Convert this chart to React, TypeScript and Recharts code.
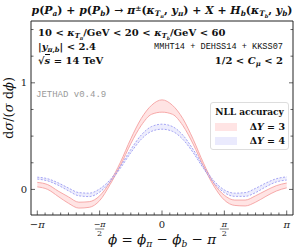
import React from 'react';
import { ComposedChart, Area, Line, XAxis, YAxis, ReferenceLine } from 'recharts';

// phi grid: k * pi/12, k = -12..12
const phi = [
  -3.1416, -2.8798, -2.618, -2.3562, -2.0944, -1.8326, -1.5708, -1.309, -1.0472, -0.7854, -0.5236, -0.2618,
  0,
  0.2618, 0.5236, 0.7854, 1.0472, 1.309, 1.5708, 1.8326, 2.0944, 2.3562, 2.618, 2.8798, 3.1416,
];

// Delta Y = 3 band
const redHi = [
  0.066, 0.045, -0.015, -0.07, -0.12, -0.115, -0.06, 0.07, 0.255, 0.475, 0.665, 0.79,
  0.84,
  0.79, 0.665, 0.47, 0.245, 0.055, -0.055, -0.1, -0.1, -0.06, -0.01, 0.035, 0.06,
];
const redLo = [
  0.024, 0.0, -0.065, -0.13, -0.175, -0.168, -0.105, 0.045, 0.225, 0.43, 0.6, 0.705,
  0.725,
  0.705, 0.6, 0.425, 0.215, 0.03, -0.1, -0.15, -0.155, -0.12, -0.065, -0.015, 0.015,
];

// Delta Y = 4 band
const blueHi = [
  0.115, 0.1, 0.062, 0.013, -0.03, -0.035, 0.005, 0.09, 0.22, 0.375, 0.51, 0.59,
  0.612,
  0.59, 0.51, 0.375, 0.215, 0.08, -0.005, -0.035, -0.03, 0.01, 0.06, 0.1, 0.118,
];
const blueLo = [
  0.097, 0.08, 0.04, -0.013, -0.06, -0.067, -0.025, 0.07, 0.2, 0.345, 0.47, 0.545,
  0.565,
  0.545, 0.47, 0.345, 0.195, 0.06, -0.03, -0.065, -0.065, -0.03, 0.025, 0.07, 0.088,
];

const xTicks = Array.from({ length: 33 }, (_, i) => ((i - 16) * Math.PI) / 16);
const yTicks = [0, 0.25, 0.5, 0.75, 1, 1.25, 1.5];

const data = phi.map((p, i) => ({
  phi: p,
  red: [redLo[i], redHi[i]],
  blue: [blueLo[i], blueHi[i]],
  redHi: redHi[i],
  redLo: redLo[i],
  blueHi: blueHi[i],
  blueLo: blueLo[i],
}));

// plot box in page pixels
const PL = 31;
const PR = 293;
const PT = 21;
const PB = 215;

const SERIF = '"DejaVu Serif", "Liberation Serif", serif';
const MONO = '"Liberation Mono", "DejaVu Sans Mono", monospace';
const AX = '#222';

const RED = '#f5a0a0';
const RED_FILL = '#ffe4e4';
const BLUE = '#9a9af2';
const BLUE_FILL = '#eaeafd';

const Sub = ({ children }: { children: React.ReactNode }) => (
  <span style={{ fontSize: '0.68em', position: 'relative', top: '0.32em', lineHeight: 0 }}>{children}</span>
);
const Sup = ({ children }: { children: React.ReactNode }) => (
  <span style={{ fontSize: '0.68em', position: 'relative', top: '-0.45em', lineHeight: 0 }}>{children}</span>
);

const Frac = ({ x, num }: { x: number; num: string }) => (
  <g>
    <text x={x} y={PB + 12} textAnchor="middle" fontSize={8} fontFamily={SERIF} fontStyle="italic" fill={AX}>{num}</text>
    <line x1={x - 4.5} x2={x + 4.5} y1={PB + 14} y2={PB + 14} stroke={AX} strokeWidth={0.6} />
    <text x={x} y={PB + 21} textAnchor="middle" fontSize={8} fontFamily={SERIF} fill={AX}>2</text>
  </g>
);

const renderXTick = (props: any) => {
  const { x, index } = props;
  const k = index - 16;
  const major = k % 8 === 0;
  let label: React.ReactNode = null;
  if (k === -16) label = <text x={x} y={PB + 13} textAnchor="middle" fontSize={10} fontFamily={SERIF} fill={AX}>−<tspan fontStyle="italic">π</tspan></text>;
  if (k === 16) label = <text x={x} y={PB + 13} textAnchor="middle" fontSize={10} fontFamily={SERIF} fontStyle="italic" fill={AX}>π</text>;
  if (k === 0) label = <text x={x} y={PB + 13} textAnchor="middle" fontSize={10} fontFamily={SERIF} fill={AX}>0</text>;
  if (k === -8) label = <Frac x={x} num="−π" />;
  if (k === 8) label = <Frac x={x} num="π" />;
  return (
    <g>
      <line x1={x} x2={x} y1={PB} y2={PB - (major ? 4.5 : 2.5)} stroke={AX} strokeWidth={0.7} />
      {label}
    </g>
  );
};

const renderLeftTick = (props: any) => {
  const { y, payload } = props;
  const v = Number(payload.value);
  const major = Math.abs(v) < 1e-6 || Math.abs(v - 1) < 1e-6;
  return (
    <g>
      <line x1={PL} x2={PL + (major ? 4 : 2.5)} y1={y} y2={y} stroke={AX} strokeWidth={0.7} />
      {Math.abs(v) < 1e-6 ? (
        <text x={PL - 4} y={y + 3.5} textAnchor="end" fontSize={10} fontFamily={SERIF} fill={AX}>0</text>
      ) : null}
    </g>
  );
};

const renderRightTick = (props: any) => {
  const { y, payload } = props;
  const v = Number(payload.value);
  const major = Math.abs(v) < 1e-6 || Math.abs(v - 1) < 1e-6;
  return <line x1={PR} x2={PR - (major ? 4 : 2.5)} y1={y} y2={y} stroke={AX} strokeWidth={0.7} />;
};

const renderOneLabel = (props: any) => {
  const vb = props.viewBox || {};
  const y = vb.y ?? 0;
  return (
    <text x={PL - 4} y={y + 3.5} textAnchor="end" fontSize={10} fontFamily={SERIF} fill={AX}>1</text>
  );
};

const abs = (left: number, top: number, extra: React.CSSProperties = {}): React.CSSProperties => ({
  position: 'absolute',
  left,
  top,
  whiteSpace: 'nowrap',
  lineHeight: 1,
  ...extra,
});

export default function App() {
  return (
    <div style={{ position: 'absolute', left: 0, top: 0, width: 304, height: 251, background: '#fff', fontFamily: SERIF, color: '#111' }}>
      <ComposedChart
        width={304}
        height={251}
        data={data}
        margin={{ top: PT - 1, right: 304 - PR - 1, bottom: 251 - PB - 1, left: PL - 1 }}
      >
        <XAxis
          dataKey="phi"
          type="number"
          domain={[-3.3, 3.3]}
          ticks={xTicks}
          interval={0}
          height={1}
          tickLine={false}
          tick={renderXTick}
          axisLine={{ stroke: AX, strokeWidth: 1 }}
          allowDataOverflow
        />
        <XAxis
          xAxisId="top"
          orientation="top"
          dataKey="phi"
          type="number"
          domain={[-3.3, 3.3]}
          height={1}
          tick={false}
          tickLine={false}
          axisLine={{ stroke: AX, strokeWidth: 1 }}
          allowDataOverflow
        />
        <YAxis
          yAxisId="l"
          type="number"
          domain={[-0.24, 1.58]}
          ticks={yTicks}
          interval={0}
          width={1}
          tickLine={false}
          tick={renderLeftTick}
          axisLine={{ stroke: AX, strokeWidth: 1 }}
          allowDataOverflow
        />
        <YAxis
          yAxisId="r"
          orientation="right"
          type="number"
          domain={[-0.24, 1.58]}
          ticks={yTicks}
          interval={0}
          width={1}
          tickLine={false}
          tick={renderRightTick}
          axisLine={{ stroke: AX, strokeWidth: 1 }}
          allowDataOverflow
        />
        <Area yAxisId="l" type="monotone" dataKey="red" stroke="none" fill={RED_FILL} fillOpacity={1} isAnimationActive={false} />
        <Area yAxisId="l" type="monotone" dataKey="blue" stroke="none" fill={BLUE_FILL} fillOpacity={0.85} isAnimationActive={false} />
        <Line yAxisId="l" type="monotone" dataKey="redHi" stroke={RED} strokeWidth={0.9} dot={false} isAnimationActive={false} />
        <Line yAxisId="l" type="monotone" dataKey="redLo" stroke={RED} strokeWidth={0.9} dot={false} isAnimationActive={false} />
        <Line yAxisId="l" type="monotone" dataKey="blueHi" stroke={BLUE} strokeWidth={0.9} strokeDasharray="2 1.5" dot={false} isAnimationActive={false} />
        <Line yAxisId="l" type="monotone" dataKey="blueLo" stroke={BLUE} strokeWidth={0.9} strokeDasharray="2 1.5" dot={false} isAnimationActive={false} />
        <ReferenceLine yAxisId="l" y={1} stroke="none" ifOverflow="visible" label={renderOneLabel} />
        <text x={13} y={108} transform="rotate(-90 13 108)" textAnchor="middle" fontSize={13} fontFamily={SERIF} fill="#111">
          d<tspan fontStyle="italic">σ</tspan>/(<tspan fontStyle="italic">σ</tspan> d<tspan fontStyle="italic">ϕ</tspan>)
        </text>
      </ComposedChart>

      {/* title */}
      <div style={abs(0, 6, { width: 324, textAlign: 'center', fontSize: 10.9, fontWeight: 'bold' })}>
        <i>p</i>(<i>P</i><Sub><i>a</i></Sub>) + <i>p</i>(<i>P</i><Sub><i>b</i></Sub>) → <i>π</i><Sup>±</Sup>(<i>κ</i><Sub><i>T</i><Sub><i>π</i></Sub></Sub>, <i>y</i><Sub><i>π</i></Sub>) + <i>X</i> + <i>H</i><Sub><i>b</i></Sub>(<i>κ</i><Sub><i>T</i><Sub><i>b</i></Sub></Sub>, <i>y</i><Sub><i>b</i></Sub>)
      </div>

      {/* cuts */}
      <div style={abs(38, 28, { fontSize: 10, fontWeight: 'bold' })}>
        10 &lt; <i>κ</i><Sub><i>T</i><Sub><i>π</i></Sub></Sub>/GeV &lt; 20 &lt; <i>κ</i><Sub><i>T</i><Sub><i>b</i></Sub></Sub>/GeV &lt; 60
      </div>
      <div style={abs(38, 42, { fontSize: 10, fontWeight: 'bold' })}>
        |<i>y</i><Sub><i>π</i>,<i>b</i></Sub>| &lt; 2.4
      </div>
      <div style={abs(38, 56, { fontSize: 10, fontWeight: 'bold' })}>
        √<span style={{ borderTop: '0.8px solid #111' }}><i>s</i></span> = 14 TeV
      </div>
      <div style={abs(153, 43, { width: 130, textAlign: 'right', fontSize: 8.6, fontFamily: MONO })}>
        MMHT14 + DEHSS14 + KKSS07
      </div>
      <div style={abs(193, 56, { width: 90, textAlign: 'right', fontSize: 10, fontWeight: 'bold' })}>
        1/2 &lt; <i>C</i><Sub><i>μ</i></Sub> &lt; 2
      </div>
      <div style={abs(36, 91, { fontSize: 9, fontFamily: MONO, color: '#999' })}>JETHAD v0.4.9</div>

      {/* legend */}
      <div
        style={abs(210, 102, {
          width: 79,
          height: 48,
          border: '1px solid #ddd',
          borderRadius: 3,
          background: '#fff',
          boxSizing: 'border-box',
        })}
      >
        <div style={abs(2, 5, { width: 73, textAlign: 'center', fontSize: 9, fontWeight: 'bold' })}>NLL accuracy</div>
        <div style={abs(4, 20, { width: 22, height: 8, background: RED_FILL })} />
        <div style={abs(4, 34, { width: 22, height: 8, background: BLUE_FILL })} />
        <div style={abs(28, 19, { width: 46, textAlign: 'right', fontSize: 9.5, fontWeight: 'bold' })}>
          Δ<i>Y</i> = 3
        </div>
        <div style={abs(28, 33, { width: 46, textAlign: 'right', fontSize: 9.5, fontWeight: 'bold' })}>
          Δ<i>Y</i> = 4
        </div>
      </div>

      <div style={abs(162, 233, { fontSize: 13.5, transform: 'translateX(-50%)' })}>
        <i>ϕ</i> = <i>ϕ</i><Sub><i>π</i></Sub> − <i>ϕ</i><Sub><i>b</i></Sub> − <i>π</i>
      </div>
    </div>
  );
}
